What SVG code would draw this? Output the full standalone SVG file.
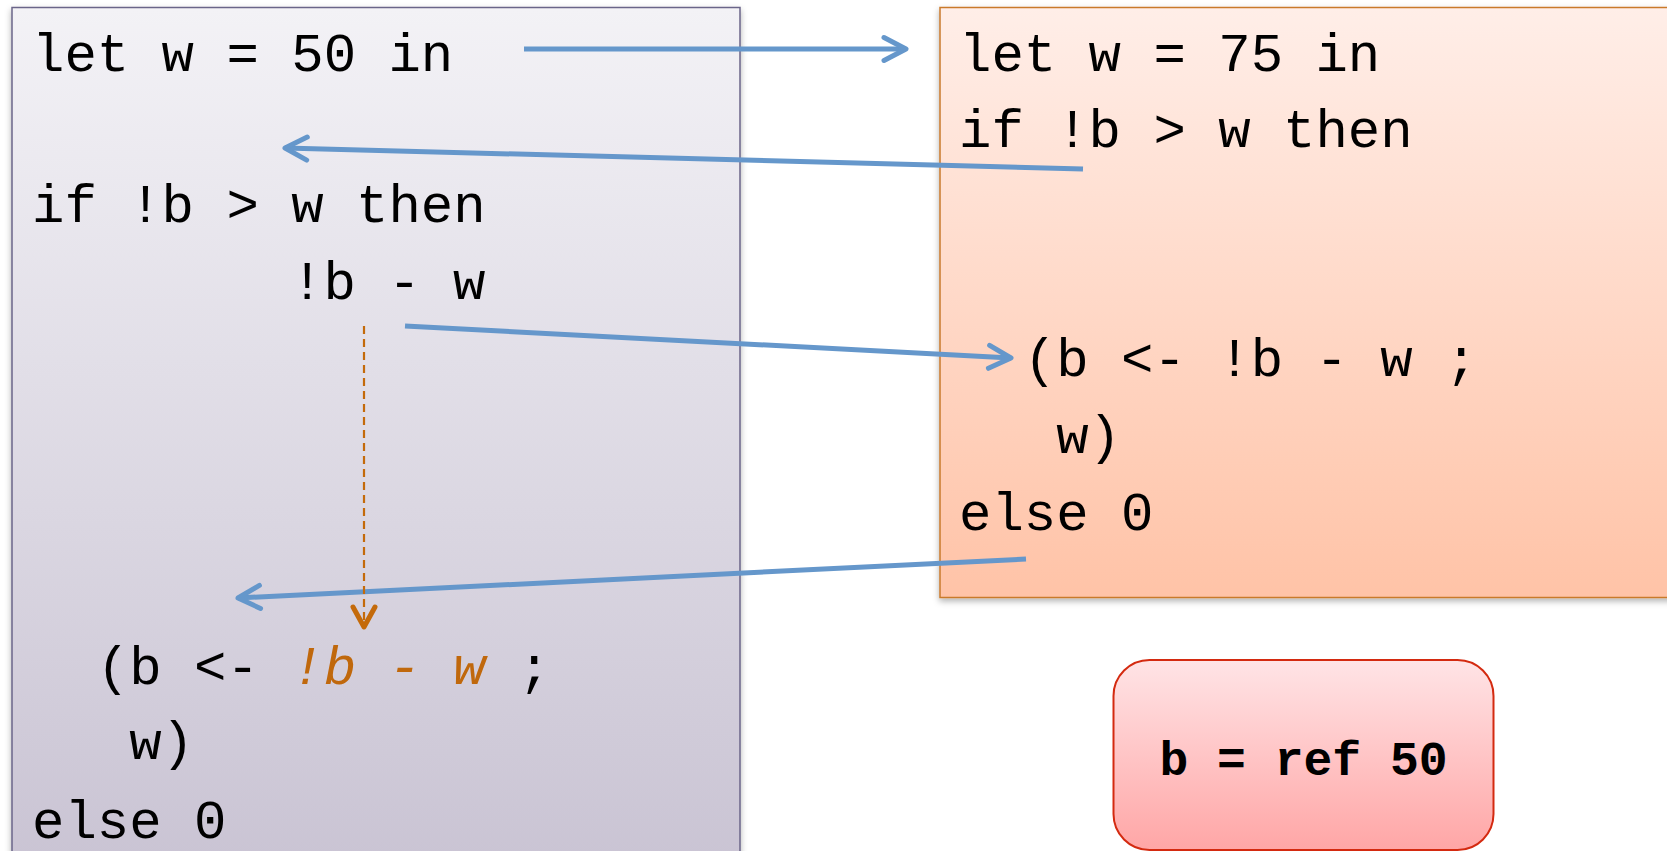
<svg xmlns="http://www.w3.org/2000/svg" width="1667" height="851" viewBox="0 0 1667 851">
<defs>
<linearGradient id="gLeft" x1="0" y1="0" x2="0" y2="1"><stop offset="0" stop-color="#F3F2F6"/><stop offset="1" stop-color="#C9C3D3"/></linearGradient>
<linearGradient id="gRight" x1="0" y1="0" x2="0" y2="1"><stop offset="0" stop-color="#FFEEE8"/><stop offset="1" stop-color="#FFC3A7"/></linearGradient>
<linearGradient id="gRed" x1="0" y1="0" x2="0" y2="1"><stop offset="0" stop-color="#FFE4E6"/><stop offset="1" stop-color="#FFA6A6"/></linearGradient>
<filter id="shadow" x="-5%" y="-5%" width="110%" height="110%"><feDropShadow dx="0" dy="3" stdDeviation="3" flood-color="#000" flood-opacity="0.3"/></filter>
<marker id="blueHead" markerUnits="userSpaceOnUse" viewBox="-30 -16 34 32" markerWidth="34" markerHeight="32" refX="0" refY="0" orient="auto" overflow="visible">
<path d="M-22,-11.5 L0,0 L-22,11.5" fill="none" stroke="#6597CB" stroke-width="5" stroke-linecap="round" stroke-linejoin="round"/>
</marker>
<marker id="orangeHead" markerUnits="userSpaceOnUse" viewBox="-30 -16 34 32" markerWidth="34" markerHeight="32" refX="0" refY="0" orient="auto" overflow="visible">
<path d="M-20,-11 L0,0 L-20,11" fill="none" stroke="#C46A0A" stroke-width="5" stroke-linecap="round" stroke-linejoin="round"/>
</marker>
</defs>
<style>
.code{font-family:"Liberation Mono","Courier New",monospace;font-size:54px;fill:#000;}
.hl{fill:#C0680C;font-style:italic;}
.bold{font-family:"Liberation Mono","Courier New",monospace;font-size:48px;font-weight:bold;fill:#000;}
.blue{fill:none;stroke:#6597CB;stroke-width:5;marker-end:url(#blueHead);}
.dash{fill:none;stroke:#C46A0A;stroke-width:2.2;stroke-dasharray:8 5;marker-end:url(#orangeHead);}
</style>
<rect width="1667" height="851" fill="#FFFFFF"/>
<g id="left-box">
<rect x="12" y="7.5" width="728" height="870" fill="url(#gLeft)" stroke="#6B6589" stroke-width="1.5" filter="url(#shadow)"/>
<text class="code" x="32" y="71" xml:space="preserve">let w = 50 in</text>
<text class="code" x="32" y="222" xml:space="preserve">if !b &gt; w then</text>
<text class="code" x="291" y="299" xml:space="preserve">!b - w</text>
<text class="code" x="96.8" y="684" xml:space="preserve">(b &lt;- <tspan class="hl">!b - w</tspan> ;</text>
<text class="code" x="129.2" y="759" xml:space="preserve">w)</text>
<text class="code" x="32" y="838" xml:space="preserve">else 0</text>
</g>
<g id="right-box">
<rect x="940" y="7.5" width="740" height="590" fill="url(#gRight)" stroke="#C97A2C" stroke-width="1.5" filter="url(#shadow)"/>
<text class="code" x="959" y="71" xml:space="preserve">let w = 75 in</text>
<text class="code" x="959" y="147" xml:space="preserve">if !b &gt; w then</text>
<text class="code" x="1023.8" y="376" xml:space="preserve">(b &lt;- !b - w ;</text>
<text class="code" x="1056.2" y="453" xml:space="preserve">w)</text>
<text class="code" x="959" y="530" xml:space="preserve">else 0</text>
</g>
<g id="ref-box">
<rect x="1113.5" y="660" width="380" height="190" rx="36" ry="36" fill="url(#gRed)" stroke="#D42A10" stroke-width="2"/>
<text class="bold" x="1303.5" y="775" text-anchor="middle" xml:space="preserve">b = ref 50</text>
</g>
<g id="connectors">
<line class="blue" x1="524" y1="49" x2="906" y2="49"/>
<line class="blue" x1="1083" y1="169" x2="285" y2="148"/>
<line class="blue" x1="405" y1="326" x2="1011" y2="358"/>
<line class="blue" x1="1026" y1="559" x2="238" y2="598"/>
<line class="dash" x1="364" y1="326" x2="364" y2="627"/>
</g>
</svg>
